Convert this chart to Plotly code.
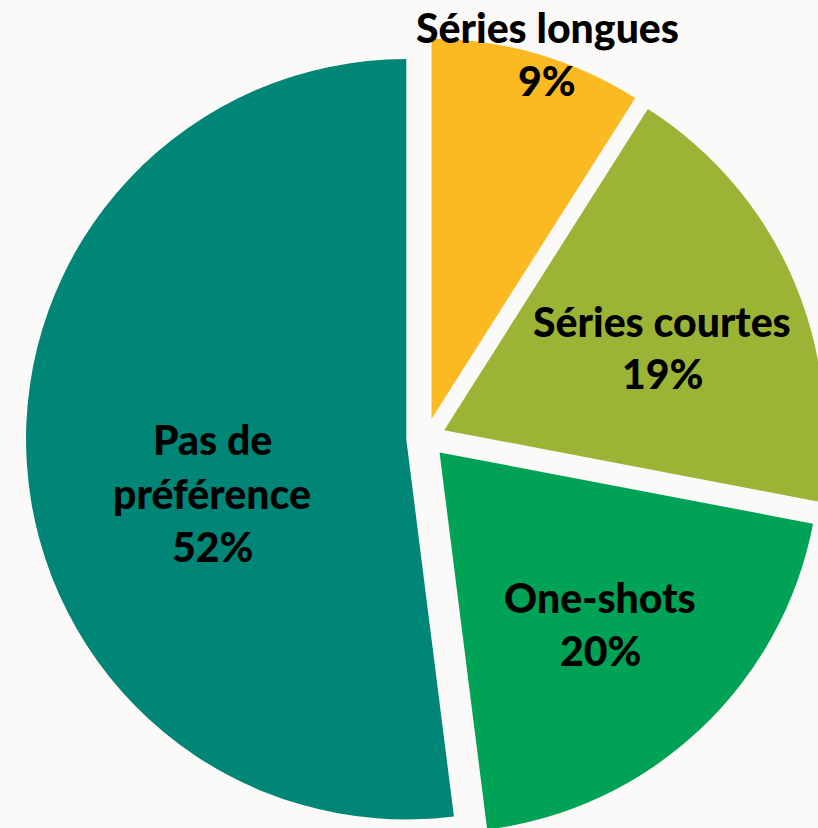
import plotly.graph_objects as go

# Reading format preference shares (percent)
labels = ["Séries longues", "Séries courtes", "One-shots", "Pas de préférence"]
values = [9, 19, 20, 52]
colors = ["#FBB922", "#9CB435", "#00A256", "#008676"]

# How each label is split over lines
wrapped = {
    "Séries longues": ["Séries longues"],
    "Séries courtes": ["Séries courtes"],
    "One-shots": ["One-shots"],
    "Pas de préférence": ["Pas de", "préférence"],
}

BG = "#FBFAF8"
FONT = "Lato"
W, H = 830, 840
M = dict(l=26, r=4, t=38, b=2)
PW = W - M["l"] - M["r"]
PH = H - M["t"] - M["b"]

fig = go.Figure(
    go.Pie(
        labels=labels,
        values=values,
        marker=dict(colors=colors, line=dict(width=0)),
        sort=False,
        direction="clockwise",
        rotation=0,
        pull=[0.052] * len(values),
        textinfo="none",
        hoverinfo="label+percent",
        showlegend=False,
    )
)


def to_paper(px, py):
    return (px - M["l"]) / PW, 1 - (py - M["t"]) / PH


# Label block centres (pixels) for each slice
label_pos = {
    "Séries longues": (547, 27),
    "Séries courtes": (662, 321),
    "One-shots": (600, 597),
    "Pas de préférence": (212, 440),
}
LINE = 53

annotations = []
for lab, val in zip(labels, values):
    x0, y0 = label_pos[lab]
    lines = wrapped[lab] + [f"{val}%"]
    for i, line in enumerate(lines):
        ax, ay = to_paper(x0, y0 + i * LINE)
        annotations.append(
            dict(
                x=ax, y=ay, xref="paper", yref="paper",
                text=line, showarrow=False,
                xanchor="center", yanchor="middle",
                font=dict(family=FONT, size=41, weight=900, color="#000000"),
            )
        )

fig.update_layout(
    width=W,
    height=H,
    margin=M,
    paper_bgcolor=BG,
    plot_bgcolor=BG,
    annotations=annotations,
)

fig.write_html(
    "out.html",
    post_script=(
        "document.documentElement.style.overflow='hidden';"
        "document.body.style.overflow='hidden';"
        "document.body.style.margin='0';"
        "document.body.style.background='" + BG + "';"
    ),
)
